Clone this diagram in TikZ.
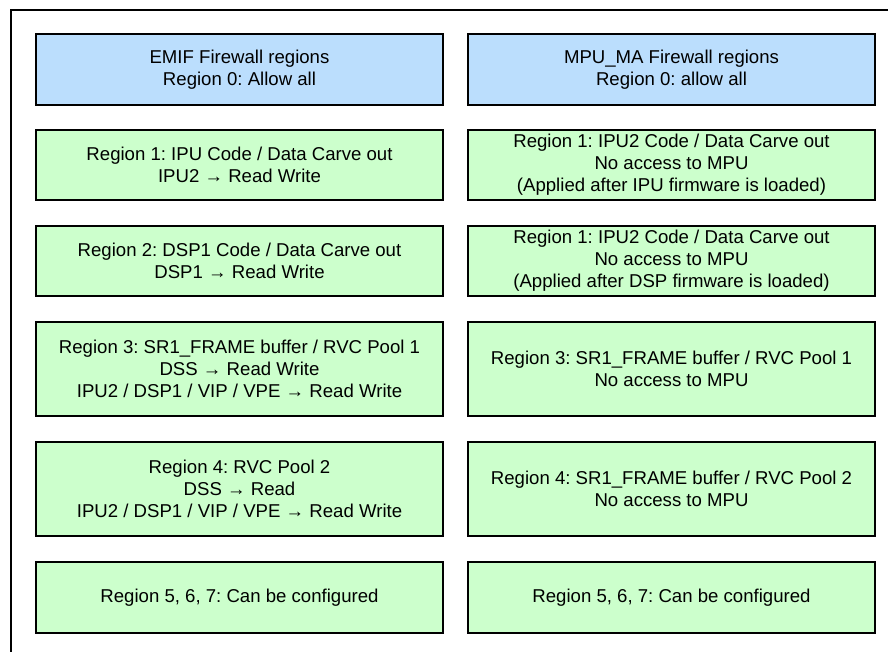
\documentclass[tikz,border=0pt]{standalone}
\usepackage{fontspec}
\setmainfont{Liberation Sans}
\frenchspacing
\definecolor{hdrblue}{RGB}{187,222,253}
\definecolor{regreen}{RGB}{204,255,204}
\begin{document}
\begin{tikzpicture}[x=1pt,y=-1pt,
  box/.style={draw=black, line width=2pt, minimum width=407pt, align=center, inner sep=0pt,
              font=\fontsize{18.6}{22}\selectfont\frenchspacing},
  hdr/.style={box, fill=hdrblue},
  reg/.style={box, fill=regreen}]
\useasboundingbox (0,0) rectangle (888,652);
\clip (0,0) rectangle (888,652);
\draw[line width=2.2pt] (11,10) rectangle (900,670);

% row 0
\node[hdr, minimum height=71pt] (emif0) at (239.5,69.5) {EMIF Firewall regions\\Region 0: Allow all};
\node[hdr, minimum height=71pt] (mpu0) at (671.5,69.5) {MPU\_MA Firewall regions\\Region 0: allow all};
% row 1
\node[reg, minimum height=70pt] (emif1) at (239.5,165) {Region 1: IPU Code / Data Carve out\\IPU2 → Read Write};
\node[reg, minimum height=70pt] (mpu1) at (671.5,165) {Region 1: IPU2 Code / Data Carve out\\No access to MPU\\(Applied after IPU firmware is loaded)};
% row 2
\node[reg, minimum height=70pt] (emif2) at (239.5,261) {Region 2: DSP1 Code / Data Carve out\\DSP1 → Read Write};
\node[reg, minimum height=70pt] (mpu2) at (671.5,261) {Region 1: IPU2 Code / Data Carve out\\No access to MPU\\(Applied after DSP firmware is loaded)};
% row 3
\node[reg, minimum height=94pt] (emif3) at (239.5,369) {Region 3: SR1\_FRAME buffer / RVC Pool 1\\DSS → Read Write\\IPU2 / DSP1 / VIP / VPE → Read Write};
\node[reg, minimum height=94pt] (mpu3) at (671.5,369) {Region 3: SR1\_FRAME buffer / RVC Pool 1\\No access to MPU};
% row 4
\node[reg, minimum height=94pt] (emif4) at (239.5,489) {Region 4: RVC Pool 2\\DSS → Read\\IPU2 / DSP1 / VIP / VPE → Read Write};
\node[reg, minimum height=94pt] (mpu4) at (671.5,489) {Region 4: SR1\_FRAME buffer / RVC Pool 2\\No access to MPU};
% row 5
\node[reg, minimum height=71pt] (emif5) at (239.5,597.5) {Region 5, 6, 7: Can be configured};
\node[reg, minimum height=71pt] (mpu5) at (671.5,597.5) {Region 5, 6, 7: Can be configured};
\end{tikzpicture}
\end{document}
